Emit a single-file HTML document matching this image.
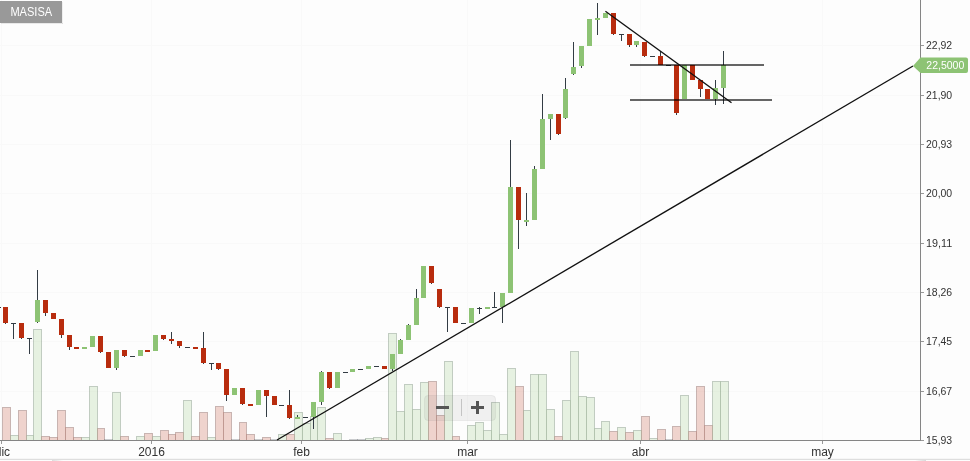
<!DOCTYPE html>
<html><head><meta charset="utf-8"><title>MASISA</title>
<style>html,body{margin:0;padding:0;background:#fdfdfd;}body{width:970px;height:461px;overflow:hidden;position:relative;font-family:"Liberation Sans",Arial,sans-serif;}</style>
</head><body>
<svg width="970" height="461" viewBox="0 0 970 461" style="position:absolute;left:0;top:0">
<g shape-rendering="crispEdges" fill="#f9f9f9">
<rect x="0" y="45" width="920" height="1"/>
<rect x="0" y="95" width="920" height="1"/>
<rect x="0" y="144" width="920" height="1"/>
<rect x="0" y="193" width="920" height="1"/>
<rect x="0" y="243" width="920" height="1"/>
<rect x="0" y="292" width="920" height="1"/>
<rect x="0" y="341" width="920" height="1"/>
<rect x="0" y="391" width="920" height="1"/>
<rect x="1" y="0" width="1" height="440"/>
<rect x="151" y="0" width="1" height="440"/>
<rect x="301" y="0" width="1" height="440"/>
<rect x="467" y="0" width="1" height="440"/>
<rect x="640" y="0" width="1" height="440"/>
<rect x="822" y="0" width="1" height="440"/>
</g>
<g shape-rendering="crispEdges">
<rect x="2" y="407" width="9" height="33" fill="#b82c0e" fill-opacity="0.2"/>
<rect x="10" y="435" width="9" height="5" fill="#8dc374" fill-opacity="0.2"/>
<rect x="18" y="410" width="9" height="30" fill="#b82c0e" fill-opacity="0.2"/>
<rect x="26" y="435" width="8" height="5" fill="#8dc374" fill-opacity="0.2"/>
<rect x="33" y="329" width="9" height="111" fill="#8dc374" fill-opacity="0.2"/>
<rect x="41" y="436" width="9" height="4" fill="#b82c0e" fill-opacity="0.2"/>
<rect x="49" y="437" width="9" height="3" fill="#b82c0e" fill-opacity="0.2"/>
<rect x="57" y="410" width="9" height="30" fill="#b82c0e" fill-opacity="0.2"/>
<rect x="65" y="427" width="9" height="13" fill="#b82c0e" fill-opacity="0.2"/>
<rect x="73" y="437" width="9" height="3" fill="#b82c0e" fill-opacity="0.2"/>
<rect x="81" y="437" width="9" height="3" fill="#8dc374" fill-opacity="0.2"/>
<rect x="89" y="386" width="9" height="54" fill="#8dc374" fill-opacity="0.2"/>
<rect x="97" y="428" width="8" height="12" fill="#b82c0e" fill-opacity="0.2"/>
<rect x="104" y="439" width="9" height="1" fill="#333c44" fill-opacity="0.25"/>
<rect x="112" y="392" width="9" height="48" fill="#8dc374" fill-opacity="0.2"/>
<rect x="120" y="436" width="9" height="4" fill="#b82c0e" fill-opacity="0.2"/>
<rect x="136" y="436" width="9" height="4" fill="#8dc374" fill-opacity="0.2"/>
<rect x="144" y="433" width="9" height="7" fill="#b82c0e" fill-opacity="0.2"/>
<rect x="152" y="436" width="9" height="4" fill="#8dc374" fill-opacity="0.2"/>
<rect x="160" y="430" width="9" height="10" fill="#b82c0e" fill-opacity="0.2"/>
<rect x="168" y="434" width="8" height="6" fill="#b82c0e" fill-opacity="0.2"/>
<rect x="175" y="432" width="9" height="8" fill="#b82c0e" fill-opacity="0.2"/>
<rect x="183" y="400" width="9" height="40" fill="#8dc374" fill-opacity="0.2"/>
<rect x="191" y="436" width="9" height="4" fill="#b82c0e" fill-opacity="0.2"/>
<rect x="199" y="412" width="9" height="28" fill="#b82c0e" fill-opacity="0.2"/>
<rect x="207" y="437" width="9" height="3" fill="#8dc374" fill-opacity="0.2"/>
<rect x="215" y="406" width="9" height="34" fill="#b82c0e" fill-opacity="0.2"/>
<rect x="223" y="412" width="9" height="28" fill="#b82c0e" fill-opacity="0.2"/>
<rect x="231" y="439" width="9" height="1" fill="#333c44" fill-opacity="0.25"/>
<rect x="239" y="422" width="8" height="18" fill="#b82c0e" fill-opacity="0.2"/>
<rect x="246" y="434" width="9" height="6" fill="#b82c0e" fill-opacity="0.2"/>
<rect x="254" y="439" width="9" height="1" fill="#333c44" fill-opacity="0.25"/>
<rect x="262" y="437" width="9" height="3" fill="#b82c0e" fill-opacity="0.2"/>
<rect x="270" y="439" width="9" height="1" fill="#333c44" fill-opacity="0.25"/>
<rect x="278" y="434" width="9" height="6" fill="#8dc374" fill-opacity="0.2"/>
<rect x="286" y="434" width="9" height="6" fill="#b82c0e" fill-opacity="0.2"/>
<rect x="294" y="412" width="9" height="28" fill="#8dc374" fill-opacity="0.2"/>
<rect x="302" y="423" width="9" height="17" fill="#8dc374" fill-opacity="0.2"/>
<rect x="310" y="416" width="8" height="24" fill="#8dc374" fill-opacity="0.2"/>
<rect x="317" y="407" width="9" height="33" fill="#8dc374" fill-opacity="0.2"/>
<rect x="325" y="438" width="9" height="2" fill="#b82c0e" fill-opacity="0.2"/>
<rect x="333" y="433" width="9" height="7" fill="#8dc374" fill-opacity="0.2"/>
<rect x="349" y="439" width="9" height="1" fill="#333c44" fill-opacity="0.25"/>
<rect x="357" y="439" width="9" height="1" fill="#333c44" fill-opacity="0.25"/>
<rect x="365" y="438" width="9" height="2" fill="#8dc374" fill-opacity="0.2"/>
<rect x="373" y="437" width="9" height="3" fill="#8dc374" fill-opacity="0.2"/>
<rect x="381" y="438" width="8" height="2" fill="#b82c0e" fill-opacity="0.2"/>
<rect x="388" y="333" width="9" height="107" fill="#8dc374" fill-opacity="0.2"/>
<rect x="396" y="411" width="9" height="29" fill="#8dc374" fill-opacity="0.2"/>
<rect x="404" y="384" width="9" height="56" fill="#8dc374" fill-opacity="0.2"/>
<rect x="412" y="409" width="9" height="31" fill="#8dc374" fill-opacity="0.2"/>
<rect x="420" y="382" width="9" height="58" fill="#8dc374" fill-opacity="0.2"/>
<rect x="428" y="381" width="9" height="59" fill="#b82c0e" fill-opacity="0.2"/>
<rect x="436" y="415" width="9" height="25" fill="#b82c0e" fill-opacity="0.2"/>
<rect x="444" y="361" width="9" height="79" fill="#8dc374" fill-opacity="0.2"/>
<rect x="452" y="436" width="8" height="4" fill="#b82c0e" fill-opacity="0.2"/>
<rect x="467" y="425" width="9" height="15" fill="#8dc374" fill-opacity="0.2"/>
<rect x="475" y="422" width="9" height="18" fill="#8dc374" fill-opacity="0.2"/>
<rect x="483" y="430" width="9" height="10" fill="#8dc374" fill-opacity="0.2"/>
<rect x="491" y="402" width="9" height="38" fill="#8dc374" fill-opacity="0.2"/>
<rect x="499" y="434" width="9" height="6" fill="#8dc374" fill-opacity="0.2"/>
<rect x="507" y="368" width="9" height="72" fill="#8dc374" fill-opacity="0.2"/>
<rect x="515" y="386" width="9" height="54" fill="#b82c0e" fill-opacity="0.2"/>
<rect x="523" y="410" width="8" height="30" fill="#8dc374" fill-opacity="0.2"/>
<rect x="530" y="374" width="9" height="66" fill="#8dc374" fill-opacity="0.2"/>
<rect x="538" y="374" width="9" height="66" fill="#8dc374" fill-opacity="0.2"/>
<rect x="546" y="409" width="9" height="31" fill="#8dc374" fill-opacity="0.2"/>
<rect x="554" y="436" width="9" height="4" fill="#b82c0e" fill-opacity="0.2"/>
<rect x="562" y="400" width="9" height="40" fill="#8dc374" fill-opacity="0.2"/>
<rect x="570" y="351" width="9" height="89" fill="#8dc374" fill-opacity="0.2"/>
<rect x="578" y="396" width="9" height="44" fill="#8dc374" fill-opacity="0.2"/>
<rect x="586" y="397" width="9" height="43" fill="#8dc374" fill-opacity="0.2"/>
<rect x="594" y="428" width="8" height="12" fill="#8dc374" fill-opacity="0.2"/>
<rect x="601" y="421" width="9" height="19" fill="#8dc374" fill-opacity="0.2"/>
<rect x="609" y="431" width="9" height="9" fill="#b82c0e" fill-opacity="0.2"/>
<rect x="617" y="427" width="9" height="13" fill="#8dc374" fill-opacity="0.2"/>
<rect x="625" y="432" width="9" height="8" fill="#b82c0e" fill-opacity="0.2"/>
<rect x="633" y="430" width="9" height="10" fill="#8dc374" fill-opacity="0.2"/>
<rect x="641" y="416" width="9" height="24" fill="#b82c0e" fill-opacity="0.2"/>
<rect x="649" y="438" width="9" height="2" fill="#8dc374" fill-opacity="0.2"/>
<rect x="657" y="429" width="9" height="11" fill="#b82c0e" fill-opacity="0.2"/>
<rect x="665" y="439" width="8" height="1" fill="#333c44" fill-opacity="0.25"/>
<rect x="672" y="426" width="9" height="14" fill="#b82c0e" fill-opacity="0.2"/>
<rect x="680" y="395" width="9" height="45" fill="#8dc374" fill-opacity="0.2"/>
<rect x="688" y="431" width="9" height="9" fill="#b82c0e" fill-opacity="0.2"/>
<rect x="696" y="386" width="9" height="54" fill="#b82c0e" fill-opacity="0.2"/>
<rect x="704" y="425" width="9" height="15" fill="#b82c0e" fill-opacity="0.2"/>
<rect x="712" y="381" width="9" height="59" fill="#8dc374" fill-opacity="0.2"/>
<rect x="720" y="381" width="9" height="59" fill="#8dc374" fill-opacity="0.2"/>
</g>
<g shape-rendering="crispEdges" fill="none" stroke="#333c44" stroke-width="1" opacity="0.2"><path d="M2.5 440V407.5H10.5V440"/><path d="M10.5 440V435.5H18.5V440"/><path d="M18.5 440V410.5H26.5V440"/><path d="M26.5 440V435.5H33.5V440"/><path d="M33.5 440V329.5H41.5V440"/><path d="M41.5 440V436.5H49.5V440"/><path d="M49.5 440V437.5H57.5V440"/><path d="M57.5 440V410.5H65.5V440"/><path d="M65.5 440V427.5H73.5V440"/><path d="M73.5 440V437.5H81.5V440"/><path d="M81.5 440V437.5H89.5V440"/><path d="M89.5 440V386.5H97.5V440"/><path d="M97.5 440V428.5H104.5V440"/><path d="M112.5 440V392.5H120.5V440"/><path d="M120.5 440V436.5H128.5V440"/><path d="M136.5 440V436.5H144.5V440"/><path d="M144.5 440V433.5H152.5V440"/><path d="M152.5 440V436.5H160.5V440"/><path d="M160.5 440V430.5H168.5V440"/><path d="M168.5 440V434.5H175.5V440"/><path d="M175.5 440V432.5H183.5V440"/><path d="M183.5 440V400.5H191.5V440"/><path d="M191.5 440V436.5H199.5V440"/><path d="M199.5 440V412.5H207.5V440"/><path d="M207.5 440V437.5H215.5V440"/><path d="M215.5 440V406.5H223.5V440"/><path d="M223.5 440V412.5H231.5V440"/><path d="M239.5 440V422.5H246.5V440"/><path d="M246.5 440V434.5H254.5V440"/><path d="M262.5 440V437.5H270.5V440"/><path d="M278.5 440V434.5H286.5V440"/><path d="M286.5 440V434.5H294.5V440"/><path d="M294.5 440V412.5H302.5V440"/><path d="M302.5 440V423.5H310.5V440"/><path d="M310.5 440V416.5H317.5V440"/><path d="M317.5 440V407.5H325.5V440"/><path d="M325.5 440V438.5H333.5V440"/><path d="M333.5 440V433.5H341.5V440"/><path d="M365.5 440V438.5H373.5V440"/><path d="M373.5 440V437.5H381.5V440"/><path d="M381.5 440V438.5H388.5V440"/><path d="M388.5 440V333.5H396.5V440"/><path d="M396.5 440V411.5H404.5V440"/><path d="M404.5 440V384.5H412.5V440"/><path d="M412.5 440V409.5H420.5V440"/><path d="M420.5 440V382.5H428.5V440"/><path d="M428.5 440V381.5H436.5V440"/><path d="M436.5 440V415.5H444.5V440"/><path d="M444.5 440V361.5H452.5V440"/><path d="M452.5 440V436.5H459.5V440"/><path d="M467.5 440V425.5H475.5V440"/><path d="M475.5 440V422.5H483.5V440"/><path d="M483.5 440V430.5H491.5V440"/><path d="M491.5 440V402.5H499.5V440"/><path d="M499.5 440V434.5H507.5V440"/><path d="M507.5 440V368.5H515.5V440"/><path d="M515.5 440V386.5H523.5V440"/><path d="M523.5 440V410.5H530.5V440"/><path d="M530.5 440V374.5H538.5V440"/><path d="M538.5 440V374.5H546.5V440"/><path d="M546.5 440V409.5H554.5V440"/><path d="M554.5 440V436.5H562.5V440"/><path d="M562.5 440V400.5H570.5V440"/><path d="M570.5 440V351.5H578.5V440"/><path d="M578.5 440V396.5H586.5V440"/><path d="M586.5 440V397.5H594.5V440"/><path d="M594.5 440V428.5H601.5V440"/><path d="M601.5 440V421.5H609.5V440"/><path d="M609.5 440V431.5H617.5V440"/><path d="M617.5 440V427.5H625.5V440"/><path d="M625.5 440V432.5H633.5V440"/><path d="M633.5 440V430.5H641.5V440"/><path d="M641.5 440V416.5H649.5V440"/><path d="M649.5 440V438.5H657.5V440"/><path d="M657.5 440V429.5H665.5V440"/><path d="M672.5 440V426.5H680.5V440"/><path d="M680.5 440V395.5H688.5V440"/><path d="M688.5 440V431.5H696.5V440"/><path d="M696.5 440V386.5H704.5V440"/><path d="M704.5 440V425.5H712.5V440"/><path d="M712.5 440V381.5H720.5V440"/><path d="M720.5 440V381.5H728.5V440"/></g>
<g shape-rendering="crispEdges">
<rect x="0" y="440" width="921" height="1" fill="#858585"/>
<rect x="920" y="0" width="1" height="441" fill="#858585"/>
<rect x="921" y="45" width="3" height="1" fill="#999"/>
<rect x="921" y="95" width="3" height="1" fill="#999"/>
<rect x="921" y="144" width="3" height="1" fill="#999"/>
<rect x="921" y="193" width="3" height="1" fill="#999"/>
<rect x="921" y="243" width="3" height="1" fill="#999"/>
<rect x="921" y="292" width="3" height="1" fill="#999"/>
<rect x="921" y="341" width="3" height="1" fill="#999"/>
<rect x="921" y="391" width="3" height="1" fill="#999"/>
<rect x="921" y="440" width="3" height="1" fill="#999"/>
<rect x="1" y="441" width="1" height="3" fill="#999"/>
<rect x="151" y="441" width="1" height="3" fill="#999"/>
<rect x="301" y="441" width="1" height="3" fill="#999"/>
<rect x="467" y="441" width="1" height="3" fill="#999"/>
<rect x="640" y="441" width="1" height="3" fill="#999"/>
<rect x="822" y="441" width="1" height="3" fill="#999"/>
</g>
<g shape-rendering="crispEdges">
<rect x="0" y="307" width="1" height="1" fill="#333c44"/>
<rect x="5" y="307" width="1" height="17" fill="#333c44"/>
<rect x="3" y="307" width="5" height="16" fill="#b82c0e"/>
<rect x="13" y="323" width="1" height="16" fill="#333c44"/>
<rect x="11" y="323" width="5" height="1" fill="#333c44"/>
<rect x="21" y="323" width="1" height="16" fill="#333c44"/>
<rect x="19" y="323" width="5" height="15" fill="#b82c0e"/>
<rect x="29" y="338" width="1" height="16" fill="#333c44"/>
<rect x="27" y="338" width="5" height="1" fill="#333c44"/>
<rect x="37" y="270" width="1" height="53" fill="#333c44"/>
<rect x="35" y="300" width="5" height="22" fill="#8dc374"/>
<rect x="45" y="300" width="1" height="16" fill="#333c44"/>
<rect x="43" y="300" width="5" height="13" fill="#b82c0e"/>
<rect x="51" y="313" width="5" height="6" fill="#b82c0e"/>
<rect x="61" y="319" width="1" height="19" fill="#333c44"/>
<rect x="59" y="319" width="5" height="16" fill="#b82c0e"/>
<rect x="69" y="335" width="1" height="15" fill="#333c44"/>
<rect x="67" y="335" width="5" height="12" fill="#b82c0e"/>
<rect x="74" y="347" width="5" height="2" fill="#b82c0e"/>
<rect x="82" y="347" width="5" height="2" fill="#8dc374"/>
<rect x="90" y="336" width="5" height="11" fill="#8dc374"/>
<rect x="100" y="336" width="1" height="17" fill="#333c44"/>
<rect x="98" y="336" width="5" height="16" fill="#b82c0e"/>
<rect x="106" y="352" width="5" height="16" fill="#b82c0e"/>
<rect x="116" y="350" width="1" height="20" fill="#333c44"/>
<rect x="114" y="350" width="5" height="18" fill="#8dc374"/>
<rect x="124" y="350" width="1" height="7" fill="#333c44"/>
<rect x="122" y="350" width="5" height="6" fill="#b82c0e"/>
<rect x="130" y="356" width="5" height="1" fill="#333c44"/>
<rect x="138" y="350" width="5" height="6" fill="#8dc374"/>
<rect x="145" y="350" width="5" height="2" fill="#b82c0e"/>
<rect x="153" y="335" width="5" height="16" fill="#8dc374"/>
<rect x="163" y="335" width="1" height="5" fill="#333c44"/>
<rect x="161" y="335" width="5" height="4" fill="#b82c0e"/>
<rect x="171" y="332" width="1" height="12" fill="#333c44"/>
<rect x="169" y="339" width="5" height="2" fill="#b82c0e"/>
<rect x="179" y="341" width="1" height="7" fill="#333c44"/>
<rect x="177" y="341" width="5" height="5" fill="#b82c0e"/>
<rect x="185" y="347" width="5" height="1" fill="#333c44"/>
<rect x="193" y="347" width="5" height="2" fill="#b82c0e"/>
<rect x="203" y="332" width="1" height="32" fill="#333c44"/>
<rect x="201" y="348" width="5" height="15" fill="#b82c0e"/>
<rect x="211" y="363" width="1" height="7" fill="#333c44"/>
<rect x="209" y="363" width="5" height="1" fill="#333c44"/>
<rect x="218" y="363" width="1" height="7" fill="#333c44"/>
<rect x="216" y="363" width="5" height="6" fill="#b82c0e"/>
<rect x="226" y="369" width="1" height="32" fill="#333c44"/>
<rect x="224" y="369" width="5" height="26" fill="#b82c0e"/>
<rect x="232" y="388" width="5" height="7" fill="#8dc374"/>
<rect x="242" y="388" width="1" height="17" fill="#333c44"/>
<rect x="240" y="388" width="5" height="16" fill="#b82c0e"/>
<rect x="248" y="404" width="5" height="2" fill="#b82c0e"/>
<rect x="256" y="390" width="5" height="15" fill="#8dc374"/>
<rect x="266" y="390" width="1" height="27" fill="#333c44"/>
<rect x="264" y="390" width="5" height="6" fill="#b82c0e"/>
<rect x="272" y="396" width="5" height="9" fill="#b82c0e"/>
<rect x="279" y="405" width="5" height="1" fill="#333c44"/>
<rect x="289" y="390" width="1" height="29" fill="#333c44"/>
<rect x="287" y="405" width="5" height="13" fill="#b82c0e"/>
<rect x="297" y="415" width="1" height="4" fill="#333c44"/>
<rect x="295" y="417" width="5" height="2" fill="#8dc374"/>
<rect x="303" y="417" width="5" height="1" fill="#333c44"/>
<rect x="313" y="402" width="1" height="27" fill="#333c44"/>
<rect x="311" y="402" width="5" height="15" fill="#8dc374"/>
<rect x="321" y="371" width="1" height="34" fill="#333c44"/>
<rect x="319" y="372" width="5" height="30" fill="#8dc374"/>
<rect x="329" y="372" width="1" height="17" fill="#333c44"/>
<rect x="327" y="372" width="5" height="16" fill="#b82c0e"/>
<rect x="335" y="372" width="5" height="16" fill="#8dc374"/>
<rect x="343" y="372" width="5" height="1" fill="#333c44"/>
<rect x="350" y="369" width="5" height="3" fill="#8dc374"/>
<rect x="358" y="369" width="5" height="1" fill="#333c44"/>
<rect x="366" y="366" width="5" height="3" fill="#8dc374"/>
<rect x="374" y="366" width="5" height="1" fill="#333c44"/>
<rect x="382" y="366" width="5" height="3" fill="#b82c0e"/>
<rect x="392" y="354" width="1" height="17" fill="#333c44"/>
<rect x="390" y="354" width="5" height="15" fill="#8dc374"/>
<rect x="400" y="339" width="1" height="15" fill="#333c44"/>
<rect x="398" y="340" width="5" height="14" fill="#8dc374"/>
<rect x="408" y="324" width="1" height="16" fill="#333c44"/>
<rect x="406" y="325" width="5" height="15" fill="#8dc374"/>
<rect x="416" y="289" width="1" height="36" fill="#333c44"/>
<rect x="414" y="298" width="5" height="27" fill="#8dc374"/>
<rect x="421" y="266" width="5" height="32" fill="#8dc374"/>
<rect x="431" y="266" width="1" height="18" fill="#333c44"/>
<rect x="429" y="266" width="5" height="17" fill="#b82c0e"/>
<rect x="439" y="289" width="1" height="19" fill="#333c44"/>
<rect x="437" y="289" width="5" height="18" fill="#b82c0e"/>
<rect x="447" y="307" width="1" height="25" fill="#333c44"/>
<rect x="445" y="307" width="5" height="1" fill="#333c44"/>
<rect x="453" y="307" width="5" height="16" fill="#b82c0e"/>
<rect x="461" y="323" width="5" height="1" fill="#333c44"/>
<rect x="469" y="308" width="5" height="15" fill="#8dc374"/>
<rect x="479" y="307" width="1" height="7" fill="#333c44"/>
<rect x="477" y="308" width="5" height="1" fill="#333c44"/>
<rect x="485" y="307" width="5" height="2" fill="#8dc374"/>
<rect x="494" y="292" width="1" height="16" fill="#333c44"/>
<rect x="492" y="307" width="5" height="1" fill="#333c44"/>
<rect x="502" y="293" width="1" height="30" fill="#333c44"/>
<rect x="500" y="293" width="5" height="14" fill="#8dc374"/>
<rect x="510" y="140" width="1" height="153" fill="#333c44"/>
<rect x="508" y="187" width="5" height="106" fill="#8dc374"/>
<rect x="518" y="187" width="1" height="62" fill="#333c44"/>
<rect x="516" y="187" width="5" height="33" fill="#b82c0e"/>
<rect x="526" y="193" width="1" height="33" fill="#333c44"/>
<rect x="524" y="220" width="5" height="2" fill="#8dc374"/>
<rect x="534" y="166" width="1" height="54" fill="#333c44"/>
<rect x="532" y="169" width="5" height="51" fill="#8dc374"/>
<rect x="542" y="94" width="1" height="75" fill="#333c44"/>
<rect x="540" y="119" width="5" height="50" fill="#8dc374"/>
<rect x="550" y="114" width="1" height="26" fill="#333c44"/>
<rect x="548" y="114" width="5" height="5" fill="#8dc374"/>
<rect x="558" y="114" width="1" height="21" fill="#333c44"/>
<rect x="556" y="114" width="5" height="20" fill="#b82c0e"/>
<rect x="565" y="78" width="1" height="41" fill="#333c44"/>
<rect x="563" y="89" width="5" height="29" fill="#8dc374"/>
<rect x="573" y="42" width="1" height="33" fill="#333c44"/>
<rect x="571" y="67" width="5" height="7" fill="#8dc374"/>
<rect x="581" y="46" width="1" height="22" fill="#333c44"/>
<rect x="579" y="46" width="5" height="20" fill="#8dc374"/>
<rect x="587" y="19" width="5" height="27" fill="#8dc374"/>
<rect x="597" y="3" width="1" height="32" fill="#333c44"/>
<rect x="595" y="18" width="5" height="2" fill="#8dc374"/>
<rect x="603" y="13" width="5" height="5" fill="#8dc374"/>
<rect x="613" y="13" width="1" height="22" fill="#333c44"/>
<rect x="611" y="13" width="5" height="21" fill="#b82c0e"/>
<rect x="621" y="34" width="1" height="7" fill="#333c44"/>
<rect x="619" y="34" width="5" height="1" fill="#333c44"/>
<rect x="629" y="34" width="1" height="13" fill="#333c44"/>
<rect x="627" y="34" width="5" height="11" fill="#b82c0e"/>
<rect x="636" y="41" width="1" height="6" fill="#333c44"/>
<rect x="634" y="41" width="5" height="4" fill="#8dc374"/>
<rect x="644" y="42" width="1" height="15" fill="#333c44"/>
<rect x="642" y="42" width="5" height="14" fill="#b82c0e"/>
<rect x="650" y="56" width="5" height="1" fill="#333c44"/>
<rect x="660" y="51" width="1" height="14" fill="#333c44"/>
<rect x="658" y="56" width="5" height="9" fill="#b82c0e"/>
<rect x="666" y="65" width="5" height="1" fill="#333c44"/>
<rect x="676" y="65" width="1" height="50" fill="#333c44"/>
<rect x="674" y="65" width="5" height="48" fill="#b82c0e"/>
<rect x="682" y="65" width="5" height="34" fill="#8dc374"/>
<rect x="690" y="65" width="5" height="15" fill="#b82c0e"/>
<rect x="700" y="80" width="1" height="17" fill="#333c44"/>
<rect x="698" y="80" width="5" height="9" fill="#b82c0e"/>
<rect x="705" y="89" width="5" height="10" fill="#b82c0e"/>
<rect x="715" y="80" width="1" height="25" fill="#333c44"/>
<rect x="713" y="88" width="5" height="11" fill="#8dc374"/>
<rect x="723" y="51" width="1" height="53" fill="#333c44"/>
<rect x="721" y="65" width="5" height="23" fill="#8dc374"/>
</g>
<line x1="630" y1="65" x2="764" y2="65" stroke="#000" stroke-opacity="0.6" stroke-width="2" shape-rendering="crispEdges"/>
<line x1="630" y1="100" x2="772" y2="100" stroke="#000" stroke-opacity="0.6" stroke-width="2" shape-rendering="crispEdges"/>
<line x1="605.4" y1="11.2" x2="731.5" y2="102.7" stroke="#111" stroke-width="1.35"/>
<line x1="277" y1="440" x2="913" y2="66" stroke="#111" stroke-width="1.35"/>
<path d="M913 66 L920.5 57.5 H966 a2 2 0 0 1 2 2 V71 a2 2 0 0 1 -2 2 H920.5 Z" fill="#8dc374"/>
<rect x="424.5" y="395.5" width="71" height="25" rx="3.5" fill="#6e6e6e" fill-opacity="0.09" stroke="#777" stroke-opacity="0.10"/>
<g shape-rendering="crispEdges"><rect x="461" y="399" width="1" height="17" fill="#000" fill-opacity="0.18"/>
<rect x="436" y="406" width="13" height="3" fill="#555"/>
<rect x="471" y="406" width="13" height="3" fill="#555"/><rect x="476" y="401" width="3" height="13" fill="#555"/></g>
<defs><linearGradient id="nl" x1="0" x2="1" y1="0" y2="0"><stop offset="0" stop-color="#dcdcdc"/><stop offset="1" stop-color="#fdfdfd"/></linearGradient><linearGradient id="nr" x1="0" x2="1" y1="0" y2="0"><stop offset="0" stop-color="#fdfdfd"/><stop offset="1" stop-color="#d8d8d8"/></linearGradient></defs>
<rect x="0" y="459" width="970" height="1" fill="#dedede" shape-rendering="crispEdges"/>
<rect x="0" y="458" width="970" height="1" fill="#f6f6f6" shape-rendering="crispEdges"/>
<rect x="52" y="460" width="11" height="1" fill="url(#nl)" shape-rendering="crispEdges"/>
<rect x="915" y="460" width="11" height="1" fill="url(#nr)" shape-rendering="crispEdges"/>
<rect x="0" y="1" width="62" height="22" fill="#999" shape-rendering="crispEdges"/>
<rect x="62" y="2" width="1" height="22" fill="#000" fill-opacity="0.06"/><rect x="1" y="23" width="62" height="1" fill="#000" fill-opacity="0.08"/>
<g font-family="'Liberation Sans', Arial, sans-serif">
<text x="10.4" y="16" font-size="12" fill="#fff" textLength="41.8" lengthAdjust="spacingAndGlyphs">MASISA</text>
<text x="926" y="49" font-size="10" fill="#333" textLength="26.2" lengthAdjust="spacingAndGlyphs">22,92</text>
<text x="926" y="99" font-size="10" fill="#333" textLength="26.2" lengthAdjust="spacingAndGlyphs">21,90</text>
<text x="926" y="148" font-size="10" fill="#333" textLength="26.2" lengthAdjust="spacingAndGlyphs">20,93</text>
<text x="926" y="197" font-size="10" fill="#333" textLength="26.2" lengthAdjust="spacingAndGlyphs">20,00</text>
<text x="926" y="247" font-size="10" fill="#333" textLength="26.2" lengthAdjust="spacingAndGlyphs">19,11</text>
<text x="926" y="296" font-size="10" fill="#333" textLength="26.2" lengthAdjust="spacingAndGlyphs">18,26</text>
<text x="926" y="345" font-size="10" fill="#333" textLength="26.2" lengthAdjust="spacingAndGlyphs">17,45</text>
<text x="926" y="395" font-size="10" fill="#333" textLength="26.2" lengthAdjust="spacingAndGlyphs">16,67</text>
<text x="926" y="444" font-size="10" fill="#333" textLength="26.2" lengthAdjust="spacingAndGlyphs">15,93</text>
<text x="926.3" y="69" font-size="10" fill="#fff" textLength="38" lengthAdjust="spacingAndGlyphs">22,5000</text>
<text x="2.4" y="456" font-size="12" fill="#333" text-anchor="middle">dic</text>
<text x="151.5" y="456" font-size="12" fill="#333" text-anchor="middle">2016</text>
<text x="301.5" y="456" font-size="12" fill="#333" text-anchor="middle">feb</text>
<text x="467.5" y="456" font-size="12" fill="#333" text-anchor="middle">mar</text>
<text x="640.5" y="456" font-size="12" fill="#333" text-anchor="middle">abr</text>
<text x="822.5" y="456" font-size="12" fill="#333" text-anchor="middle">may</text>
</g>
</svg>
</body></html>
